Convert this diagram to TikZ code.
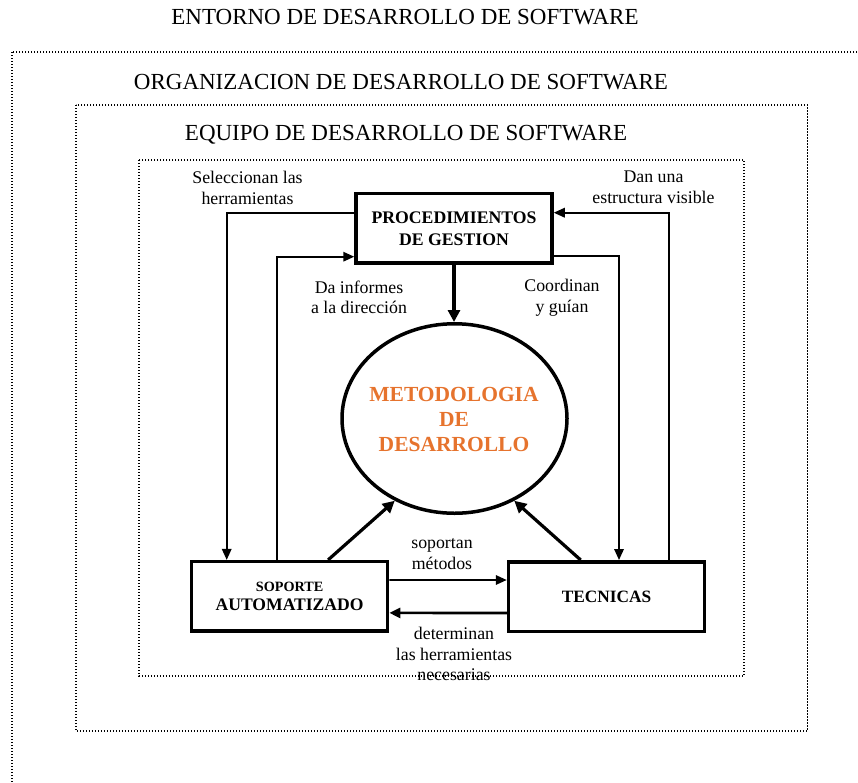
\documentclass[tikz,border=0pt]{standalone}
\usepackage{fontspec}
\setmainfont{Liberation Serif}
\usetikzlibrary{arrows.meta,shapes.geometric}
\definecolor{metorange}{RGB}{230,115,45}

\begin{document}
\begin{tikzpicture}[x=1pt,y=-1pt,
  dotbox/.style={line width=1.3pt, dash pattern=on 1.3pt off 1.7pt},
  title/.style={font=\fontsize{23}{27}\selectfont, inner sep=0pt},
  lbl/.style={font=\fontsize{17.8}{20.5}\selectfont, align=center, inner sep=0pt},
  box/.style={draw, line width=3.5pt, minimum width=196pt, minimum height=69.5pt,
    align=center, inner sep=0pt},
  link/.style={line width=1.7pt, -{Triangle[length=11pt,width=9.5pt]}},
  heavylink/.style={line width=2.6pt, -{Triangle[length=11pt,width=10pt]}},
  bigarrow/.style={line width=3.2pt, -{Triangle[length=12pt,width=12pt]}}]

\useasboundingbox (0,0) rectangle (858,782);
\clip (0,0) rectangle (858,782);

% nested environments
\draw[dotbox] (12,52) rectangle (872,810);
\draw[dotbox] (76,105) rectangle (807.5,731);
\draw[dotbox] (139,160) rectangle (744,676);

\node[title] (tEnt) at (405,17) {ENTORNO DE DESARROLLO DE SOFTWARE};
\node[title] (tOrg) at (401,82) {ORGANIZACION DE DESARROLLO DE SOFTWARE};
\node[title] (tEq)  at (406,135) {EQUIPO DE DESARROLLO DE SOFTWARE};

% main components
\node[box, font=\fontsize{17.7}{22}\selectfont\bfseries] (proc) at (454,228.3)
  {PROCEDIMIENTOS\\DE GESTION};
\node[box, font=\fontsize{17.6}{19.5}\selectfont\bfseries] (sop) at (289.6,596.4)
  {{\fontsize{14.2}{19.5}\selectfont SOPORTE}\\AUTOMATIZADO};
\node[box, font=\fontsize{17.3}{20}\selectfont\bfseries] (tec) at (606.5,596.5) {TECNICAS};

\node[draw, ellipse, line width=3.5pt, minimum width=225pt, minimum height=189.5pt,
  inner sep=0pt] (met) at (454.5,418.5) {};
\node[font=\fontsize{21.5}{25}\selectfont\bfseries, text=metorange, align=center,
  inner sep=0pt] (mettxt) at (454,419) {METODOLOGIA\\DE\\DESARROLLO};

% connectors
\draw[link] ([yshift=15.6pt]proc.west) -| ([xshift=-62.9pt]sop.north);
\draw[link] ([xshift=-12.9pt]sop.north) |- ([yshift=-28.4pt]proc.west);
\draw[link] ([yshift=-28pt]proc.east) -| ([xshift=12.5pt]tec.north);
\draw[link] ([xshift=62.5pt]tec.north) |- ([yshift=15.6pt]proc.east);

\draw[bigarrow] (proc.south) -- (proc.south |- met.north);
\draw[bigarrow] ([xshift=38.5pt]sop.north) -- (met.234);
\draw[bigarrow] ([xshift=-25.8pt]tec.north) -- (met.306);

\draw[link] ([yshift=16.5pt]sop.east) -- ([yshift=16.5pt]tec.west);
\draw[heavylink] ([yshift=-16.5pt]tec.west) -- ([yshift=-16.5pt]sop.east);

% connector labels
\node[lbl] (lSel) at (247.5,188) {Seleccionan las\\herramientas};
\node[lbl] (lDan) at (653.5,187.5) {Dan una\\estructura visible};
\node[lbl] (lInf) at (359,297.5) {Da informes\\a la dirección};
\node[lbl] (lCoo) at (562,297.5) {Coordinan\\y guían};
\node[lbl] (lSop) at (442,554) {soportan\\métodos};
\node[lbl] (lDet) at (454,654) {determinan\\las herramientas\\necesarias};
\end{tikzpicture}
\end{document}
